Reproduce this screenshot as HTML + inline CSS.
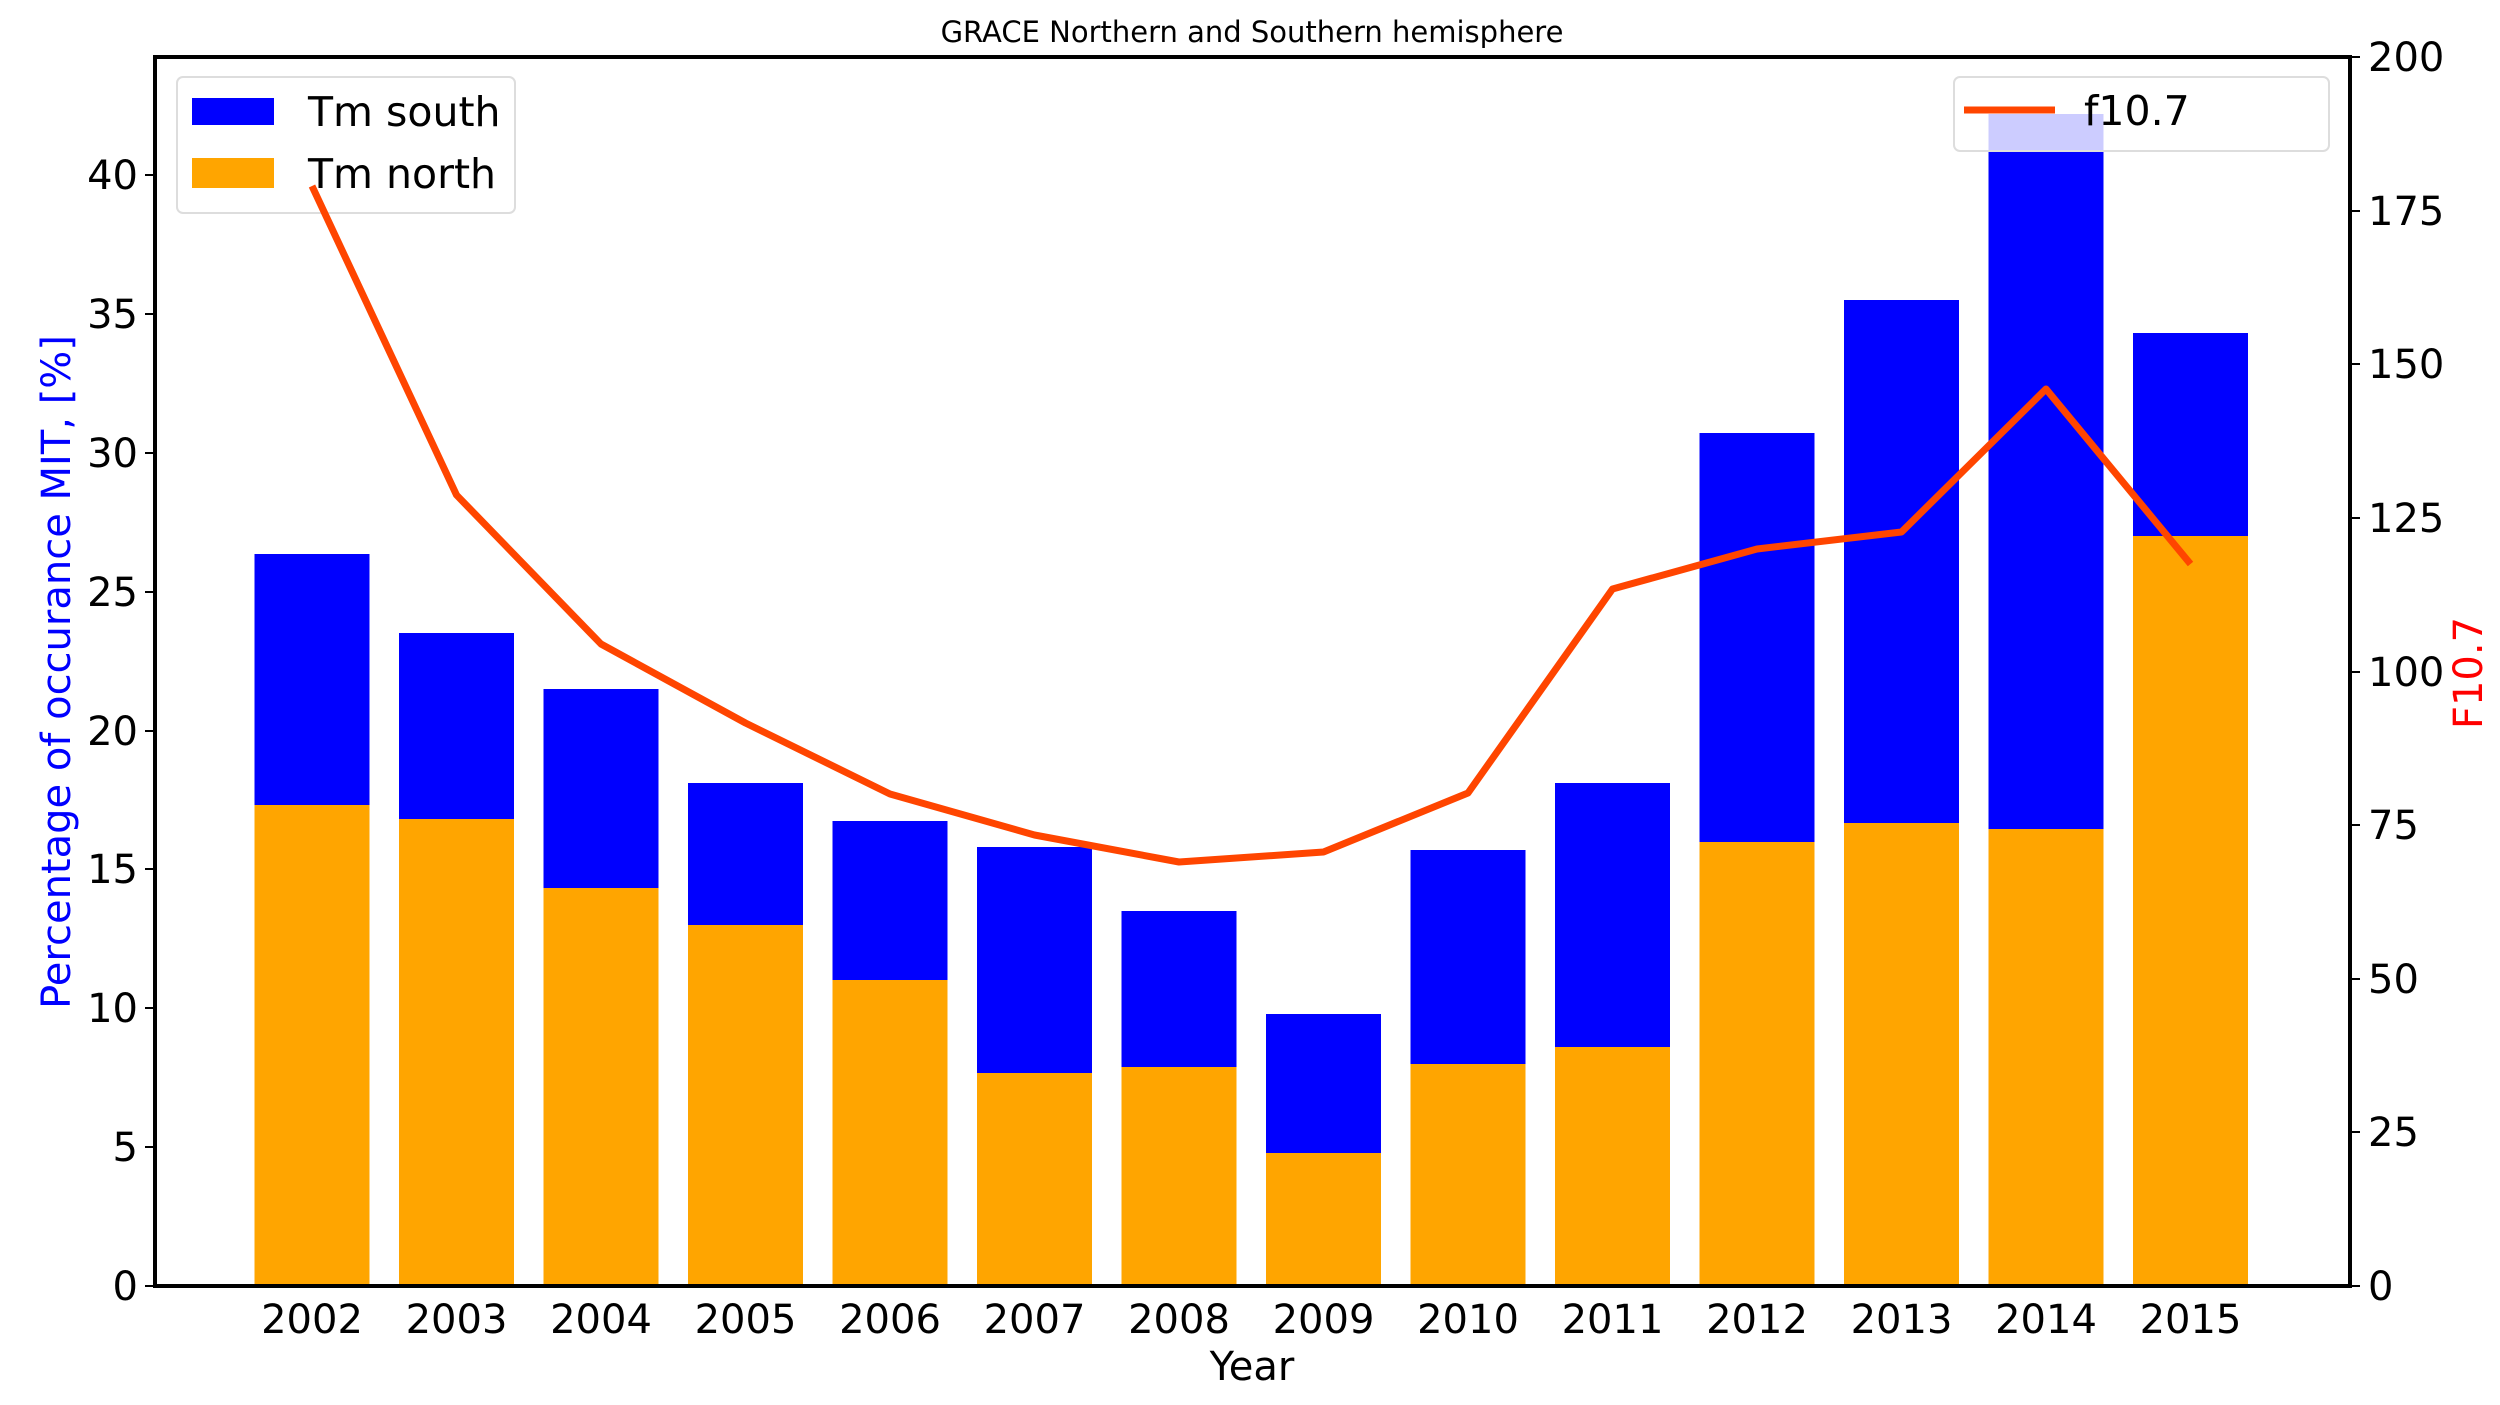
<!DOCTYPE html>
<html><head><meta charset="utf-8"><style>
html,body{margin:0;padding:0;background:#fff;}
svg{display:block;}
text{font-family:"DejaVu Sans","Liberation Sans",sans-serif;}
</style></head><body>
<svg width="2500" height="1405" viewBox="0 0 2500 1405" xmlns="http://www.w3.org/2000/svg">
<rect width="2500" height="1405" fill="#fff"/>
<text x="1252" y="42" font-size="29" text-anchor="middle" fill="#000">GRACE Northern and Southern hemisphere</text>
<g>
<rect x="254.5" y="554" width="115" height="251" fill="#0000ff"/><rect x="254.5" y="805" width="115" height="481" fill="#ffa500"/>
<rect x="399" y="633" width="115" height="186" fill="#0000ff"/><rect x="399" y="819" width="115" height="467" fill="#ffa500"/>
<rect x="543.5" y="689" width="115" height="199" fill="#0000ff"/><rect x="543.5" y="888" width="115" height="398" fill="#ffa500"/>
<rect x="688" y="783" width="115" height="142" fill="#0000ff"/><rect x="688" y="925" width="115" height="361" fill="#ffa500"/>
<rect x="832.5" y="821" width="115" height="159" fill="#0000ff"/><rect x="832.5" y="980" width="115" height="306" fill="#ffa500"/>
<rect x="977" y="847" width="115" height="226" fill="#0000ff"/><rect x="977" y="1073" width="115" height="213" fill="#ffa500"/>
<rect x="1121.5" y="911" width="115" height="156" fill="#0000ff"/><rect x="1121.5" y="1067" width="115" height="219" fill="#ffa500"/>
<rect x="1266" y="1014" width="115" height="139" fill="#0000ff"/><rect x="1266" y="1153" width="115" height="133" fill="#ffa500"/>
<rect x="1410.5" y="850" width="115" height="214" fill="#0000ff"/><rect x="1410.5" y="1064" width="115" height="222" fill="#ffa500"/>
<rect x="1555" y="783" width="115" height="264" fill="#0000ff"/><rect x="1555" y="1047" width="115" height="239" fill="#ffa500"/>
<rect x="1699.5" y="433" width="115" height="409" fill="#0000ff"/><rect x="1699.5" y="842" width="115" height="444" fill="#ffa500"/>
<rect x="1844" y="300" width="115" height="523" fill="#0000ff"/><rect x="1844" y="823" width="115" height="463" fill="#ffa500"/>
<rect x="1988.5" y="114" width="115" height="715" fill="#0000ff"/><rect x="1988.5" y="829" width="115" height="457" fill="#ffa500"/>
<rect x="2133" y="333" width="115" height="203" fill="#0000ff"/><rect x="2133" y="536" width="115" height="750" fill="#ffa500"/>
</g>
<rect x="177" y="77" width="338" height="136" rx="6" fill="#fff" fill-opacity="0.8" stroke="#ddd" stroke-width="2"/>
<rect x="192" y="98" width="82" height="27" fill="#0000ff"/>
<rect x="192" y="158" width="82" height="30" fill="#ffa500"/>
<text x="308" y="126" font-size="41" fill="#000">Tm south</text>
<text x="308" y="188" font-size="41" fill="#000">Tm north</text>
<polyline fill="none" stroke="#ff4500" stroke-width="7" stroke-linejoin="round" points="312,186 456.5,495 601,644 745.5,723 890,794 1034.5,835 1179,862 1323.5,852 1468,793 1612.5,589 1757,549 1901.5,532 2046,389 2190.5,564"/>
<rect x="1954" y="77" width="375" height="74" rx="6" fill="#fff" fill-opacity="0.8" stroke="#ddd" stroke-width="2"/>
<line x1="1964" y1="110" x2="2055" y2="110" stroke="#ff4500" stroke-width="7"/>
<text x="2084" y="125" font-size="41" fill="#000">f10.7</text>
<rect x="155" y="57" width="2195" height="1229" fill="none" stroke="#000" stroke-width="4"/>
<g font-size="40" fill="#000" text-anchor="end">
<text x="138" y="1300">0</text><text x="138" y="1161">5</text><text x="138" y="1022">10</text><text x="138" y="883">15</text><text x="138" y="745">20</text><text x="138" y="606">25</text><text x="138" y="467">30</text><text x="138" y="328">35</text><text x="138" y="189">40</text>
</g>
<g stroke="#000" stroke-width="2">
<line x1="145" y1="1286" x2="155" y2="1286"/><line x1="145" y1="1147" x2="155" y2="1147"/><line x1="145" y1="1008" x2="155" y2="1008"/><line x1="145" y1="869" x2="155" y2="869"/><line x1="145" y1="731" x2="155" y2="731"/><line x1="145" y1="592" x2="155" y2="592"/><line x1="145" y1="453" x2="155" y2="453"/><line x1="145" y1="314" x2="155" y2="314"/><line x1="145" y1="175" x2="155" y2="175"/>
<line x1="2350" y1="1286" x2="2360" y2="1286"/><line x1="2350" y1="1132" x2="2360" y2="1132"/><line x1="2350" y1="979" x2="2360" y2="979"/><line x1="2350" y1="825" x2="2360" y2="825"/><line x1="2350" y1="672" x2="2360" y2="672"/><line x1="2350" y1="518" x2="2360" y2="518"/><line x1="2350" y1="364" x2="2360" y2="364"/><line x1="2350" y1="211" x2="2360" y2="211"/><line x1="2350" y1="57" x2="2360" y2="57"/>
</g>
<g font-size="40" fill="#000">
<text x="2368" y="1300">0</text><text x="2368" y="1146">25</text><text x="2368" y="993">50</text><text x="2368" y="839">75</text><text x="2368" y="686">100</text><text x="2368" y="532">125</text><text x="2368" y="378">150</text><text x="2368" y="225">175</text><text x="2368" y="71">200</text>
</g>
<g font-size="40" fill="#000" text-anchor="middle">
<text x="312" y="1333">2002</text><text x="456.5" y="1333">2003</text><text x="601" y="1333">2004</text><text x="745.5" y="1333">2005</text><text x="890" y="1333">2006</text><text x="1034.5" y="1333">2007</text><text x="1179" y="1333">2008</text><text x="1323.5" y="1333">2009</text><text x="1468" y="1333">2010</text><text x="1612.5" y="1333">2011</text><text x="1757" y="1333">2012</text><text x="1901.5" y="1333">2013</text><text x="2046" y="1333">2014</text><text x="2190.5" y="1333">2015</text>
<text x="1252" y="1380">Year</text>
</g>
<text transform="translate(70,672) rotate(-90)" font-size="40" fill="#0000ff" text-anchor="middle">Percentage of occurance MIT, [%]</text>
<text transform="translate(2482,673) rotate(-90)" font-size="40" fill="#ff0000" text-anchor="middle">F10.7</text>
</svg>
</body></html>
